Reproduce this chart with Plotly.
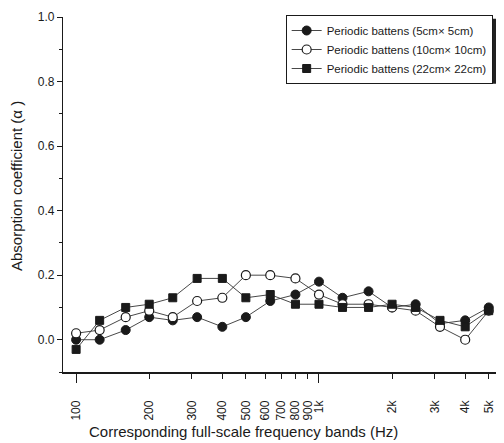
import plotly.graph_objects as go

freqs = [100, 125, 160, 200, 250, 315, 400, 500, 630, 800, 1000, 1250, 1600, 2000, 2500, 3150, 4000, 5000]
s5 = [0.00, 0.00, 0.03, 0.07, 0.06, 0.07, 0.04, 0.07, 0.12, 0.14, 0.18, 0.13, 0.15, 0.10, 0.11, 0.05, 0.06, 0.10]
s10 = [0.02, 0.03, 0.07, 0.09, 0.07, 0.12, 0.13, 0.20, 0.20, 0.19, 0.14, 0.11, 0.11, 0.10, 0.09, 0.04, 0.00, 0.09]
s22 = [-0.03, 0.06, 0.10, 0.11, 0.13, 0.19, 0.19, 0.13, 0.14, 0.11, 0.11, 0.10, 0.10, 0.11, 0.10, 0.06, 0.04, 0.09]
names = ["Periodic battens (5cm× 5cm)", "Periodic battens (10cm× 10cm)", "Periodic battens (22cm× 22cm)"]
xtickvals = [100, 200, 300, 400, 500, 600, 700, 800, 900, 1000, 2000, 3000, 4000, 5000]
xticktext = ["100", "200", "300", "400", "500", "600", "700", "800", "900", "1k", "2k", "3k", "4k", "5k"]
ytickvals = [0.0, 0.2, 0.4, 0.6, 0.8, 1.0]
xtitle = "Corresponding full-scale frequency bands (Hz)"
ytitle = "Absorption coefficient (α )"

FONT = "Liberation Sans, Arial, sans-serif"
ink = "#1a1a1a"

fig = go.Figure()
markers = [
    dict(size=9, symbol="circle", color=ink, line=dict(color=ink, width=1)),
    dict(size=9, symbol="circle", color="white", line=dict(color=ink, width=1.2)),
    dict(size=8, symbol="square", color=ink, line=dict(color=ink, width=1)),
]
for name, ys, mk in zip(names, [s5, s10, s22], markers):
    fig.add_trace(go.Scatter(x=freqs, y=ys, mode="lines+markers", name=name,
                             line=dict(color="#333333", width=0.9), marker=mk))

# legend shadow
fig.add_shape(type="rect", xref="paper", yref="paper", x0=0.53, x1=0.999, y0=0.812, y1=0.995,
              fillcolor="#222222", line=dict(width=0), layer="above")

fig.add_annotation(text=xtitle, xref="paper", yref="paper", x=0.415, y=-0.168,
                   xanchor="center", yanchor="middle", showarrow=False, font=dict(size=15))
fig.add_annotation(text=ytitle, xref="paper", yref="paper", x=-0.106, y=0.524, textangle=-90,
                   xanchor="center", yanchor="middle", showarrow=False, font=dict(size=15))

fig.update_layout(
    width=496, height=435,
    margin=dict(l=55, r=7, t=7, b=71),
    paper_bgcolor="white", plot_bgcolor="white",
    font=dict(family=FONT, color=ink, size=12),
    showlegend=True,
    legend=dict(x=0.99, y=1.0056, xanchor="right", yanchor="top", bgcolor="white",
                bordercolor=ink, borderwidth=1, font=dict(size=11.5, family=FONT),
                tracegroupgap=0, itemwidth=30),
    xaxis=dict(type="log", range=[1.946, 3.733], tickvals=xtickvals, ticktext=xticktext,
               tickangle=-90, ticks="outside", ticklen=5, tickcolor=ink, showline=True,
               linecolor=ink, linewidth=1.5, showgrid=False, zeroline=False,
               ticklabelstandoff=17, tickfont=dict(size=12), automargin=False,
               minor=dict(tickvals=[100, 1000], ticklen=9, tickcolor=ink, ticks="outside")),
    yaxis=dict(range=[-0.1, 1.0], tickvals=ytickvals, tickformat=".1f", ticks="outside",
               ticklen=5, tickcolor=ink, showline=True, linecolor=ink, linewidth=1.2,
               showgrid=False, zeroline=False, tickfont=dict(size=12), automargin=False,
               minor=dict(dtick=0.1, ticklen=3, ticks="outside", tickcolor=ink)),
)

fig.write_html("out.html")
